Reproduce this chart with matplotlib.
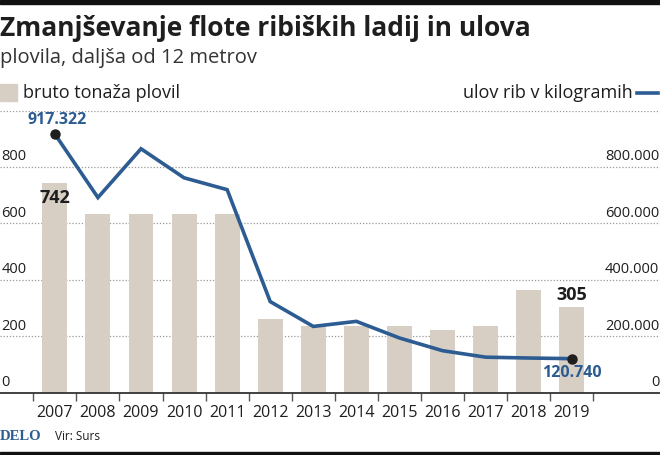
import matplotlib
matplotlib.use('Agg')
import matplotlib.pyplot as plt
from matplotlib.patches import Rectangle
from matplotlib.lines import Line2D
import matplotlib.transforms as mtransforms

plt.rcParams['font.family'] = ['Open Sans', 'DejaVu Sans']

years = ['2007', '2008', '2009', '2010', '2011', '2012', '2013',
         '2014', '2015', '2016', '2017', '2018', '2019']
tonnage = [742, 633, 633, 633, 633, 260, 236, 236, 236, 222, 238, 364, 305]
catch_kg = [917322, 692000, 865000, 762000, 720000, 323000, 235000,
            253000, 194000, 149000, 126000, 123000, 120740]
left_ticks = [0, 200, 400, 600, 800]
right_ticks = [0, 200000, 400000, 600000, 800000]

BAR = '#d7cfc4'
BLUE = '#2c5c91'
DARK = '#1e1e1e'

W, H = 660, 455
fig = plt.figure(figsize=(W / 100, H / 100), dpi=100)


def fx(px):
    return px / W


def fy(py):
    return 1 - py / H


def thou(v):
    return f'{v:,}'.replace(',', '.')


# plot area: value 0 at y=392.7 px, 1000 at y=110.7 px
y0, y1 = 392.7, 110.7
ax = fig.add_axes([0, fy(y0), 1, (y0 - y1) / H])
x = list(range(len(years)))
ax.bar(x, tonnage, width=0.58, color=BAR, zorder=2)
ax.set_ylim(0, 1000)
ax.set_xlim(-1.273, 14.048)

for s in ['top', 'left', 'right']:
    ax.spines[s].set_visible(False)
ax.spines['bottom'].set_color('#333333')
ax.spines['bottom'].set_linewidth(1.3)
ax.set_yticks([])
ax.set_xticks([i - 0.5 for i in range(len(years) + 1)])
ax.set_xticklabels([])
ax.tick_params(axis='x', length=6, width=1, color='#555555', direction='out')
for i, yr in enumerate(years):
    ax.text(i, -0.072, yr, transform=ax.get_xaxis_transform(), ha='center',
            va='center', fontsize=11.5, color=DARK)

for g in [200, 400, 600, 800, 1000]:
    ax.axhline(g, color='#999999', lw=0.9, ls=(0, (1, 1.5)), zorder=1)

# line on the right scale
ax2 = ax.twinx()
ax2.set_ylim(0, 1000000)
ax2.axis('off')
ax2.plot(x, catch_kg, color=BLUE, lw=2.6, solid_joinstyle='miter', zorder=3)
ax2.plot([x[0], x[-1]], [catch_kg[0], catch_kg[-1]], 'o', color=DARK,
         markersize=6.5, zorder=4)

# axis labels above gridlines
off = mtransforms.offset_copy(ax.transData, fig=fig, x=0, y=7.4, units='points')
for v in left_ticks:
    ax.text(-1.24, v, str(v), transform=off, ha='left', va='center',
            fontsize=10.5, color=DARK)
off2 = mtransforms.offset_copy(ax2.transData, fig=fig, x=0, y=7.4, units='points')
for v in right_ticks:
    ax2.text(14.03, v, thou(v), transform=off2, ha='right', va='center',
             fontsize=10.5, color=DARK)

# value labels
ax2.annotate(thou(catch_kg[0]), (x[0], catch_kg[0]), xytext=(2, 10),
             textcoords='offset points', ha='center', va='center',
             fontsize=11.5, fontweight='bold', color=BLUE)
ax2.annotate(thou(catch_kg[-1]), (x[-1], catch_kg[-1]), xytext=(0, -10.5),
             textcoords='offset points', ha='center', va='center',
             fontsize=11.5, fontweight='bold', color=BLUE)
ax.annotate(str(tonnage[0]), (x[0], tonnage[0]), xytext=(0, -10.5),
            textcoords='offset points', ha='center', va='center',
            fontsize=13, fontweight='bold', color=DARK, zorder=5)
ax.annotate(str(tonnage[-1]), (x[-1], tonnage[-1]), xytext=(0, 8.7),
            textcoords='offset points', ha='center', va='center',
            fontsize=13, fontweight='bold', color=DARK)

# titles
fig.text(fx(0), fy(35.7), 'Zmanjševanje flote ribiških ladij in ulova',
         ha='left', va='baseline', fontsize=19, fontweight='bold', color=DARK)
fig.text(fx(0), fy(63.5), 'plovila, daljša od 12 metrov', ha='left',
         va='baseline', fontsize=14.5, color='#333333')

# legend
fig.patches.append(Rectangle((fx(0), fy(101)), fx(17), (101 - 84) / H,
                             transform=fig.transFigure, color=BAR))
fig.text(fx(23), fy(92.5), 'bruto tonaža plovil', ha='left', va='center',
         fontsize=13, color=DARK)
fig.text(fx(633), fy(92.5), 'ulov rib v kilogramih', ha='right', va='center',
         fontsize=13, color=DARK)
fig.lines.append(Line2D([fx(637), fx(658)], [fy(92.5), fy(92.5)],
                        transform=fig.transFigure, color=BLUE, lw=2.6))

# footer
fig.text(fx(0), fy(437), 'DELO', ha='left', va='center', fontsize=10.5,
         fontweight='bold', color=BLUE, family=['Liberation Serif'])
fig.text(fx(55), fy(437), 'Vir: Surs', ha='left', va='center', fontsize=8.5,
         color=DARK)

# top and bottom rules
fig.patches.append(Rectangle((0, fy(3.5)), 1, 3.5 / H,
                             transform=fig.transFigure, color='#111111'))
fig.patches.append(Rectangle((0, 0), 1, 3.5 / H,
                             transform=fig.transFigure, color='#111111'))

fig.savefig('out.png', dpi=100)
